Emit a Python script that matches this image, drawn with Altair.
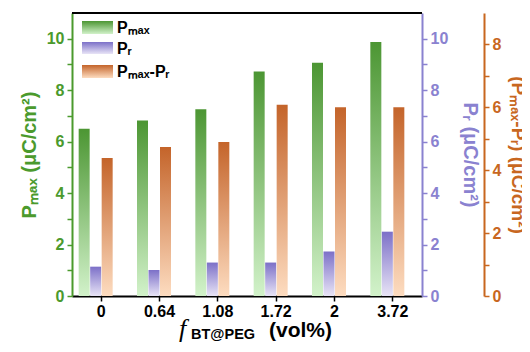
import altair as alt
import pandas as pd

cats = ["0", "0.64", "1.08", "1.72", "2", "3.72"]
pmax = [6.50, 6.82, 7.26, 8.73, 9.07, 9.87]
pr = [1.14, 1.01, 1.30, 1.30, 1.73, 2.50]
diff = [5.36, 5.79, 5.99, 7.43, 7.34, 7.34]

df = pd.DataFrame({"cat": cats, "pmax": pmax, "pr": pr, "diff": diff})
one = pd.DataFrame({"k": [0]})

GREEN = "#4b9a2d"
PURPLE = "#8a82d0"
ORANGE = "#c8671f"
FONT = "Liberation Sans"


def grad(top, bottom):
    return alt.LinearGradient(
        gradient="linear",
        stops=[alt.GradientStop(color=top, offset=0), alt.GradientStop(color=bottom, offset=1)],
        x1=0, x2=0, y1=0, y2=1,
    )


G_GREEN = grad("#4c9633", "#d2f2ca")
G_PURPLE = grad("#7c70c8", "#e8e4f6")
G_ORANGE = grad("#c4642a", "#fddcc0")

x_enc = alt.X(
    "cat:N", sort=cats,
    scale=alt.Scale(paddingInner=0, paddingOuter=0),
    axis=alt.Axis(
        title=None, labelAngle=0, labelFont=FONT, labelFontWeight="bold", labelFontSize=16,
        labelColor="black", tickColor="black", tickSize=5, tickWidth=1.5,
        domainColor="black", domainWidth=2, labelPadding=2,
    ),
)

odd_blank = "datum.value % 2 === 0 ? datum.label : ''"


def yaxis(color, orient, title, tpad, offset=0, values=None, tsize=20):
    return alt.Axis(
        orient=orient, offset=offset, title=title, values=values, labelExpr=odd_blank,
        labelFont=FONT, labelFontWeight="bold", labelFontSize=16, labelColor=color,
        tickColor=color, tickSize=5, tickWidth=1.5, domainColor=color, domainWidth=2,
        titleFont=FONT, titleFontWeight="bold", titleFontSize=tsize, titleColor=color,
        titlePadding=tpad, grid=False, labelPadding=3,
    )


green = alt.Chart(df).mark_bar(width=11, xOffset=-17, color=G_GREEN).encode(
    x=x_enc,
    y=alt.Y("pmax:Q", scale=alt.Scale(domain=[0, 11], nice=False),
            axis=yaxis(GREEN, "left", "Pₘₐₓ (μC/cm²)", 7, values=list(range(0, 11)))),
)
purple = alt.Chart(df).mark_bar(width=11, xOffset=-5.5, color=G_PURPLE).encode(
    x=x_enc,
    y=alt.Y("pr:Q", scale=alt.Scale(domain=[0, 11], nice=False),
            axis=yaxis(PURPLE, "right", "Pᵣ (μC/cm²)", 12, values=list(range(0, 11)))),
)
orange = alt.Chart(df).mark_bar(width=11, xOffset=6, color=G_ORANGE).encode(
    x=x_enc,
    y=alt.Y("diff:Q", scale=alt.Scale(domain=[0, 11], nice=False), axis=None),
)
orange_axis = alt.Chart(df).mark_point(opacity=0).encode(
    x=x_enc,
    y=alt.Y("diff:Q", scale=alt.Scale(domain=[0, 9], nice=False),
            axis=yaxis(ORANGE, "right", "(Pₘₐₓ-Pᵣ) (μC/cm²)", 7, offset=62,
                       values=list(range(0, 9)), tsize=19)),
)

frame_top = alt.Chart(one).mark_rule(color="black", strokeWidth=2).encode(
    x=alt.value(0), x2=alt.value(350), y=alt.value(0)
)

legend_layers = []
for grd, y0, y1, ty, label in [
    (G_GREEN, 8, 21, 15, "Pₘₐₓ"),
    (G_PURPLE, 29, 41, 36, "Pᵣ"),
    (G_ORANGE, 52, 65, 59, "Pₘₐₓ-Pᵣ"),
]:
    legend_layers.append(
        alt.Chart(one).mark_rect(color=grd).encode(
            x=alt.value(10), x2=alt.value(41), y=alt.value(y0), y2=alt.value(y1)
        )
    )
    legend_layers.append(
        alt.Chart(one).mark_text(text=label, align="left", baseline="middle", font=FONT,
                                 fontWeight="bold", fontSize=16, color="black").encode(
            x=alt.value(45), y=alt.value(ty)
        )
    )

xt_f = alt.Chart(one).mark_text(text="f", align="left", baseline="alphabetic", font="Liberation Serif",
                                fontStyle="italic", fontSize=26, color="black").encode(
    x=alt.value(107), y=alt.value(324))
xt_sub = alt.Chart(one).mark_text(text="BT@PEG", align="left", baseline="alphabetic", font=FONT,
                                  fontWeight="bold", fontSize=14.5, color="black").encode(
    x=alt.value(119), y=alt.value(326))
xt_unit = alt.Chart(one).mark_text(text="(vol%)", align="left", baseline="alphabetic", font=FONT,
                                   fontWeight="bold", fontSize=21, color="black").encode(
    x=alt.value(197), y=alt.value(324))

chart = alt.layer(
    green, purple, orange, orange_axis, frame_top, *legend_layers, xt_f, xt_sub, xt_unit
).resolve_scale(y="independent").properties(
    width=350, height=283,
    padding={"left": 64, "top": 5, "right": 100, "bottom": 48},
    autosize=alt.AutoSizeParams(type="none"),
).configure_view(stroke=None).configure(background="white")

chart.save("out.html", embed_options={"renderer": "svg", "actions": False})
